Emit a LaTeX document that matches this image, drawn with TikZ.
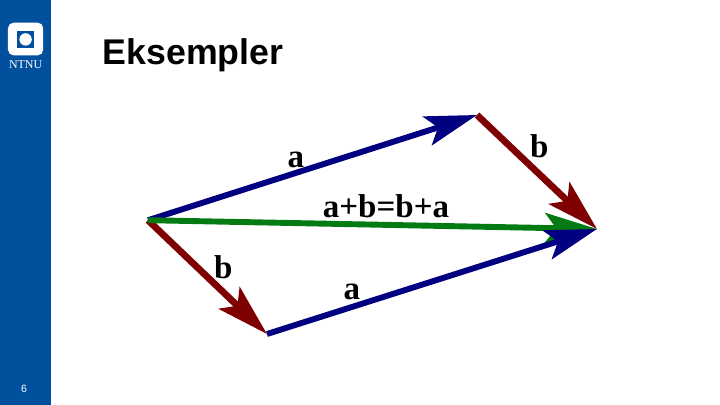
\documentclass[tikz,border=0pt]{standalone}
\usepackage{fontspec}
\setmainfont{Liberation Serif}
\newfontfamily\titlefont{Liberation Sans}
\usetikzlibrary{arrows.meta}
\definecolor{ntnublue}{HTML}{00509E}
\definecolor{veca}{HTML}{000080}
\definecolor{vecb}{HTML}{7F0000}
\definecolor{vecsum}{HTML}{047A12}
\tikzset{
	vec/.style={line width=4.2pt,-{Stealth[length=1.3cm,width=.75cm,inset=.28cm]}},
	veclabel/.style={inner sep=0pt,font=\fontsize{23.5}{23.5}\selectfont\bfseries},
}

\begin{document}
\begin{tikzpicture}[scale=1.0]
\useasboundingbox (0,0) rectangle (18,10.125);
\fill[ntnublue] (0,0) rectangle (1.275,10.125);
\fill[white,rounded corners=4pt] (.2,8.74) rectangle (1.08,9.56);
\fill[ntnublue] (.42,8.92) rectangle (.86,9.36);
\fill[white] (.64,9.14) circle (.155);
\node[inner sep=0pt,text=white,font=\fontsize{8.5}{8.5}\selectfont] (logo) at (.64,8.52) {NTNU};
\node[inner sep=0pt,text=white,font=\titlefont\fontsize{7.5}{7.5}\selectfont] (page) at (.6,.4) {6};
\node[inner sep=0pt,anchor=base west,font=\titlefont\fontsize{25.4}{25.4}\selectfont\bfseries] (title) at (2.56,8.5) {Eksempler};
\coordinate[] (O) at (3.7,4.62);
\coordinate[] (T) at (11.925,7.25);
\coordinate[] (R) at (14.925,4.4);
\coordinate[] (B) at (6.675,1.775);
\draw [vec,veca] (O) -- (T);
\draw [vec,vecb,line width=4.8pt] (T) -- (R);
\draw [vec,vecb,line width=4.8pt] (O) -- (B);
\draw [vec,vecsum] (O) -- (R);
\draw [vec,veca] (B) -- (R);
\node[veclabel] (la) at (7.4,6.13) {a};
\node[veclabel] (lb) at (13.48,6.47) {b};
\node[veclabel] (lsum) at (9.65,4.97) {a+b=b+a};
\node[veclabel] (lbb) at (5.58,3.44) {b};
\node[veclabel] (laa) at (8.8,2.83) {a};
\end{tikzpicture}
\end{document}
